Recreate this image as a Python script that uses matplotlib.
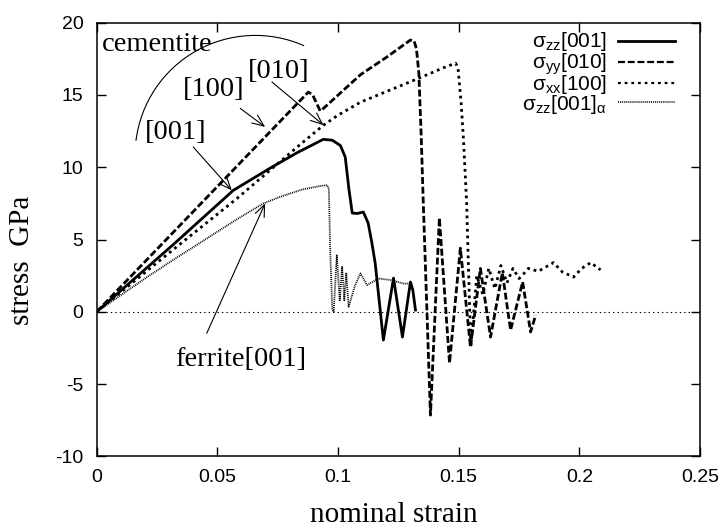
import math
import matplotlib
matplotlib.use('Agg')
import matplotlib.pyplot as plt
from matplotlib.patches import Arc

plt.rcParams['font.family'] = ['Liberation Sans', 'DejaVu Sans']
plt.rcParams['mathtext.fontset'] = 'custom'
plt.rcParams['mathtext.rm'] = 'Liberation Sans'
plt.rcParams['mathtext.it'] = 'Liberation Sans:italic'
plt.rcParams['lines.scale_dashes'] = False
plt.rcParams['axes.unicode_minus'] = False

# sigma_zz [001] cementite (solid)
zzStrain = [0, 0.0318, 0.0566, 0.0719, 0.0830, 0.0939, 0.0976, 0.1010, 0.1030, 0.1045, 0.1059,
            0.1080, 0.1105, 0.1125, 0.1140, 0.1154, 0.1188, 0.1230, 0.1267, 0.1300, 0.1310, 0.1321]
zzStress = [0, 4.66, 8.4, 9.94, 11.0, 11.93, 11.87, 11.5, 10.7, 8.5, 6.83,
            6.8, 6.9, 6.13, 4.8, 3.37, -1.96, 2.33, -1.75, 2.06, 1.5, 0.12]

# sigma_yy [010] cementite (dashed)
yyStrain = [0, 0.0877, 0.0895, 0.0926, 0.0935, 0.1093, 0.1200, 0.1300, 0.1315, 0.1325, 0.1335,
            0.1345, 0.1353, 0.1383, 0.1420, 0.1462, 0.1507, 0.1549, 0.1590, 0.1632, 0.1681,
            0.1715, 0.1765, 0.1798, 0.1819]
yyStress = [0, 15.2, 15.0, 13.9, 14.0, 16.4, 17.6, 18.8, 18.75, 18.2, 16.5,
            12.0, 7.7, -7.15, 6.5, -3.55, 4.4, -2.45, 3.0, -1.75, 2.7,
            -1.27, 2.06, -1.4, -0.23]

# sigma_xx [100] cementite (short dashes)
xxStrain = [0, 0.0317, 0.0582, 0.0831, 0.0939, 0.1000, 0.1093, 0.1341, 0.1440, 0.1487, 0.1497,
            0.1510, 0.1520, 0.1533, 0.1550, 0.1575, 0.1600, 0.1625, 0.1650, 0.1675, 0.1700,
            0.1725, 0.1750, 0.1768, 0.1789, 0.1830, 0.1893, 0.1930, 0.1976, 0.2010, 0.2047, 0.2088]
xxStress = [0, 4.3, 7.85, 11.4, 12.9, 13.6, 14.5, 16.2, 16.9, 17.2, 16.9,
            14.5, 11.9, 7.5, -2.45, 2.5, 1.2, 3.0, 1.6, 3.2, 2.0,
            3.0, 2.3, 2.6, 3.0, 2.8, 3.4, 2.75, 2.4, 3.0, 3.4, 2.9]

# sigma_zz [001] ferrite (dotted)
feStrain = [0, 0.010, 0.020, 0.0318, 0.045, 0.0581, 0.0691, 0.076, 0.085, 0.0925, 0.0955,
            0.0962, 0.0968, 0.0976, 0.0982, 0.0995, 0.1007, 0.1017, 0.1026, 0.1034, 0.1044,
            0.1070, 0.1093, 0.1120, 0.1168, 0.1217, 0.1272, 0.1307]
feStress = [0, 1.15, 2.3, 3.6, 5.0, 6.4, 7.5, 7.95, 8.45, 8.7, 8.76,
            8.5, 4.0, 0.2, 0.0, 3.9, 0.8, 3.1, 0.8, 2.7, 0.35,
            1.8, 2.65, 1.85, 2.3, 2.2, 1.95, 1.95]

legendLabels = [r'σ$_{\mathrm{zz}}$[001]', r'σ$_{\mathrm{yy}}$[010]',
                r'σ$_{\mathrm{xx}}$[100]', r'σ$_{\mathrm{zz}}$[001]$_{\mathrm{α}}$']

solidDash = None
longDash = (5, 2)
shortDash = (2, 2.8)
fineDot = (0.7, 0.7)

fig = plt.figure(figsize=(7.25, 5.30), dpi=100)
ax = fig.add_axes([96.7/725, (530-456.3)/530, (700-96.7)/725, (456.3-22.7)/530])

ax.axhline(0, color='k', lw=0.8, dashes=(1, 2.2))

ax.plot(zzStrain, zzStress, color='k', lw=2.0)
ax.plot(yyStrain, yyStress, color='k', lw=2.0, dashes=longDash)
ax.plot(xxStrain, xxStress, color='k', lw=2.0, dashes=shortDash)
ax.plot(feStrain, feStress, color='k', lw=1.3, dashes=fineDot)

ax.set_xlim(0, 0.25)
ax.set_ylim(-10, 20)
ax.set_xticks([0, 0.05, 0.1, 0.15, 0.2, 0.25])
ax.set_xticklabels(['0', '0.05', '0.1', '0.15', '0.2', '0.25'])
ax.set_yticks([-10, -5, 0, 5, 10, 15, 20])
ax.tick_params(direction='in', length=6.5, width=1.0, top=True, right=True, labelsize=14)
ax.tick_params(axis='x', pad=9.5)
ax.tick_params(axis='y', pad=9.5)
for s in ax.spines.values():
    s.set_linewidth(1.1)

# legend drawn by hand (text right aligned, sample line on the right)
rowText = [0.944, 0.8934, 0.8459, 0.7987]
rowLine = [0.9578, 0.9100, 0.8616, 0.8178]
styles = [solidDash, longDash, shortDash, fineDot]
widths = [2.0, 1.6, 1.6, 1.2]
for lab, yt, yl, st, w in zip(legendLabels, rowText, rowLine, styles, widths):
    ax.text(0.8453, yt, lab, transform=ax.transAxes, ha='right', va='baseline', fontsize=15)
    if st is None:
        ax.plot([0.8646, 0.9586], [yl, yl], transform=ax.transAxes, color='k', lw=w)
    else:
        ax.plot([0.8646, 0.9586], [yl, yl], transform=ax.transAxes, color='k', lw=w, dashes=st)

serif = 'Liberation Serif'
ax.text(0.0023, 18.05, 'cementite', family=serif, fontsize=20.5, va='baseline')
ax.text(0.0359, 14.92, '[100]', family=serif, fontsize=20.5, va='baseline')
ax.text(0.0627, 16.2, '[010]', family=serif, fontsize=20.5, va='baseline')
ax.text(0.0198, 11.92, '[001]', family=serif, fontsize=20.5, va='baseline')
ax.text(0.0325, -3.73, 'ferrite[001]', family=serif, fontsize=20.5, va='baseline')

# arc around the cementite curves; Arc angles are taken in data units, so
# convert the on-screen angles through the ellipse half axes
arcW, arcH = 0.0996, 16.6
def dataAngle(t):
    r = math.radians(t)
    return math.degrees(math.atan2(arcH / 2 * math.sin(r), arcW / 2 * math.cos(r)))
ax.add_patch(Arc((0.0657, 10.82), arcW, arcH, theta1=dataAngle(66), theta2=dataAngle(173),
                 color='k', lw=0.8))

arrowStyle = dict(arrowstyle='->,head_length=0.6,head_width=0.25', mutation_scale=14,
                  lw=0.8, color='k', shrinkA=0, shrinkB=0)
ax.annotate('', xy=(0.056, 8.4), xytext=(0.040, 11.4), arrowprops=arrowStyle)
ax.annotate('', xy=(0.0698, 12.79), xytext=(0.0595, 14.07), arrowprops=arrowStyle)
ax.annotate('', xy=(0.094, 12.91), xytext=(0.0726, 15.9), arrowprops=arrowStyle)
ax.annotate('', xy=(0.0698, 7.5), xytext=(0.0456, -1.49), arrowprops=arrowStyle)

fig.text(394/725, (530-522)/530, 'nominal strain', family=serif, fontsize=21,
         ha='center', va='baseline')
fig.text(22/725, (530-260)/530, 'stress  GPa', family=serif, fontsize=21,
         ha='center', va='center', rotation=90)

fig.savefig('out.png', dpi=100)
